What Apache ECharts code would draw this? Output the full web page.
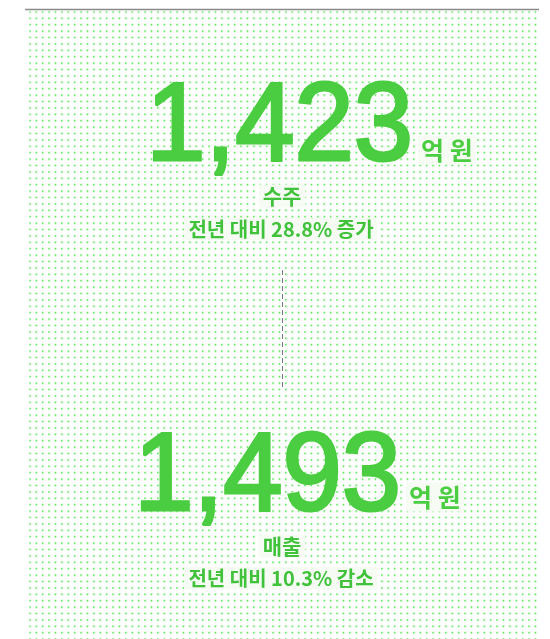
<!DOCTYPE html>
<html>
<head>
<meta charset="utf-8">
<script src="https://cdn.jsdelivr.net/npm/echarts@6/dist/echarts.min.js"></script>
<style>
  html, body { margin: 0; padding: 0; background: #fff; }
  #kpi { width: 550px; height: 639px; }
</style>
</head>
<body>
<div id="kpi"></div>
<script>
// 데이터
var metricNames = ['수주', '매출'];
var metricValues = [1423, 1493];
var changeRates = [28.8, 10.3];
var changeWords = ['증가', '감소'];
var unitText = '억 원';

// 배치 (블록별)
var blockLayout = [
  { numRight: 413, numY: 129, unitY: 150, nameY: 196, subY: 229 },
  { numRight: 401, numY: 479, unitY: 497, nameY: 546, subY: 578 }
];

var GREEN = '#4acd40';
var LABEL_GREEN = '#40c23a';
var LABEL_BG = '#f6fbf4';
var KR_FONT = '"Noto Sans CJK KR", "Noto Sans", sans-serif';

// 점 무늬 배경
function makeDotPattern() {
  var c = document.createElement('canvas');
  c.width = 32;
  c.height = 32;
  var ctx = c.getContext('2d');
  ctx.fillStyle = '#10d810';
  for (var i = 0; i < 5; i++) {
    for (var j = 0; j < 5; j++) {
      ctx.fillRect(i * 6.4, j * 6.4, 1.4, 1.4);
    }
  }
  return c;
}

function formatNum(v) {
  return v.toString().replace(/\B(?=(\d{3})+(?!\d))/g, ',');
}

function initKpi() {
  var chart = echarts.init(document.getElementById('kpi'), null, { renderer: 'canvas' });
  var elements = [];

  elements.push({
    type: 'rect',
    x: 29.2,
    y: 11.2,
    shape: { x: 0, y: 0, width: 509, height: 628 },
    style: { fill: { image: makeDotPattern(), repeat: 'repeat' } },
    silent: true
  });

  elements.push({
    type: 'line',
    shape: { x1: 25, y1: 9.5, x2: 539, y2: 9.5 },
    style: { stroke: '#8a8a8a', lineWidth: 1.4 }
  });

  elements.push({
    type: 'line',
    shape: { x1: 282.5, y1: 270, x2: 282.5, y2: 388 },
    style: { stroke: '#777', lineWidth: 1, lineDash: [5, 3] }
  });

  metricNames.forEach(function (name, i) {
    var L = blockLayout[i];
    // 큰 숫자
    elements.push({
      type: 'text',
      x: L.numRight,
      y: L.numY,
      originX: 0,
      originY: 0,
      scaleX: 0.96,
      style: {
        text: formatNum(metricValues[i]),
        fill: GREEN,
        stroke: GREEN,
        lineWidth: 3,
        fontSize: 111,
        fontFamily: '"Liberation Sans", Arial, sans-serif',
        fontWeight: 'normal',
        align: 'right', textAlign: 'right',
        verticalAlign: 'middle', textVerticalAlign: 'middle'
      }
    });
    // 단위
    elements.push({
      type: 'text',
      x: L.numRight + 5,
      y: L.unitY,
      style: {
        text: unitText,
        fill: GREEN,
        fontSize: 25,
        fontFamily: KR_FONT,
        fontWeight: 'bold',
        backgroundColor: LABEL_BG,
        padding: [3, 3, 1, 3],
        align: 'left', textAlign: 'left',
        verticalAlign: 'middle', textVerticalAlign: 'middle'
      }
    });
    // 항목명
    elements.push({
      type: 'text',
      x: 282,
      y: L.nameY,
      style: {
        text: name,
        fill: LABEL_GREEN,
        fontSize: 21,
        fontFamily: KR_FONT,
        fontWeight: 'bold',
        backgroundColor: LABEL_BG,
        padding: [1, 4, 1, 4],
        align: 'center', textAlign: 'center',
        verticalAlign: 'middle', textVerticalAlign: 'middle'
      }
    });
    // 전년 대비
    elements.push({
      type: 'text',
      x: 281,
      y: L.subY,
      style: {
        text: '전년 대비 ' + changeRates[i].toFixed(1) + '% ' + changeWords[i],
        fill: LABEL_GREEN,
        fontSize: 20,
        fontFamily: KR_FONT,
        fontWeight: 'bold',
        backgroundColor: LABEL_BG,
        padding: [1, 4, 1, 4],
        align: 'center', textAlign: 'center',
        verticalAlign: 'middle', textVerticalAlign: 'middle'
      }
    });
  });

  chart.setOption({
    backgroundColor: '#fff',
    animation: false,
    graphic: { elements: elements }
  });
}

initKpi();
</script>
</body>
</html>
